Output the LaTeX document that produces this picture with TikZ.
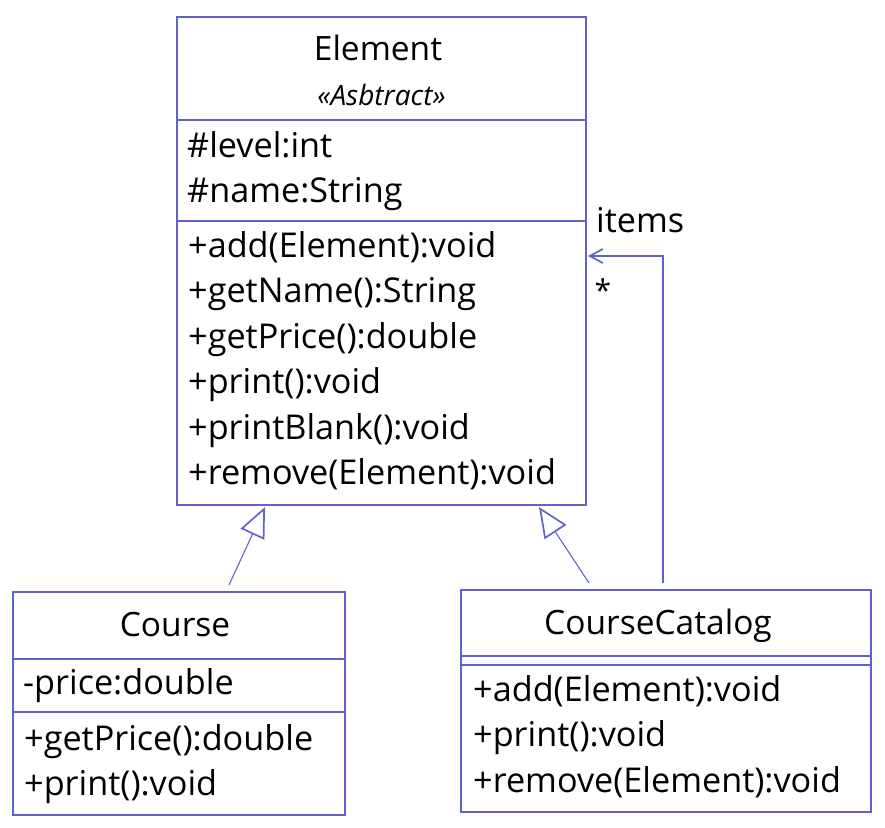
\documentclass[tikz,border=0pt]{standalone}
\usepackage{fontspec}
\setmainfont{Open Sans}
\usetikzlibrary{arrows.meta}
\definecolor{umlline}{RGB}{98,98,204}
\tikzset{
  x=1pt, y=-1pt,
  umlbox/.style={draw=umlline, line width=1.2pt, inner sep=0pt, fill=none},
  sepline/.style={draw=umlline, line width=1.2pt},
  txt/.style={anchor=base west, inner sep=0pt, font=\fontsize{34.2}{40}\selectfont},
  title/.style={anchor=base, inner sep=0pt, font=\fontsize{33.5}{40}\selectfont},
  stereo/.style={anchor=base, inner sep=0pt, font=\fontsize{28}{34}\selectfont\itshape},
  gen/.style={draw=umlline, line width=1.1pt, -{Triangle[open, length=30pt, width=26pt, line width=1.7pt]}},
  assoc/.style={draw=umlline, line width=1.7pt, -{Straight Barb[length=13pt, width=14pt, line width=1.7pt]}},
}
\begin{document}
\begin{tikzpicture}
\useasboundingbox (0,0) rectangle (885,827);
% Element
\node[umlbox, minimum width=409pt, minimum height=488pt] (element) at (381.5,261) {};
\draw[sepline] (177,120) -- (586,120);
\draw[sepline] (177,221) -- (586,221);
\node[title] (eltitle) at (378,60) {Element};
\node[stereo] (elstereo) at (381.5,105) {«Asbtract»};
\node[txt] (ea1) at (187,157) {\#level:int};
\node[txt] (ea2) at (187,202) {\#name:String};
\node[txt] (em1) at (188,257) {+add(Element):void};
\node[txt] (em2) at (188,302.5) {+getName():String};
\node[txt] (em3) at (188,348) {+getPrice():double};
\node[txt] (em4) at (188,393.5) {+print():void};
\node[txt] (em5) at (188,439) {+printBlank():void};
\node[txt] (em6) at (188,484.5) {+remove(Element):void};
% Course
\node[umlbox, minimum width=332pt, minimum height=223pt] (course) at (179,703.5) {};
\draw[sepline] (13,659) -- (345,659);
\draw[sepline] (13,712) -- (345,712);
\node[title] (ctitle) at (175,636) {Course};
\node[txt] (ca1) at (23,694) {-price:double};
\node[txt] (cm1) at (24,750) {+getPrice():double};
\node[txt] (cm2) at (24,795) {+print():void};
% CourseCatalog
\node[umlbox, minimum width=410pt, minimum height=222pt] (catalog) at (666,701) {};
\draw[sepline] (461,656) -- (871,656);
\draw[sepline] (461,665) -- (871,665);
\node[title] (cctitle) at (658,634) {CourseCatalog};
\node[txt] (ccm1) at (473,701) {+add(Element):void};
\node[txt] (ccm2) at (473,746.5) {+print():void};
\node[txt] (ccm3) at (473,792) {+remove(Element):void};
% connectors
\coordinate (g1s) at (229,585);
\coordinate (g1e) at (265,507);
\coordinate (g2s) at (589,583);
\coordinate (g2e) at (539,507);
\draw[gen] (g1s) -- (g1e);
\draw[gen] (g2s) -- (g2e);
\coordinate (as) at (663,583);
\coordinate (ae) at (588,256);
\draw[assoc] (as) |- (ae);
\node[txt] (items) at (596,232) {items};
\node[inner sep=0pt, anchor=center, font=\fontsize{30}{34}\selectfont] (mult) at (603,290) {*};
\end{tikzpicture}
\end{document}
